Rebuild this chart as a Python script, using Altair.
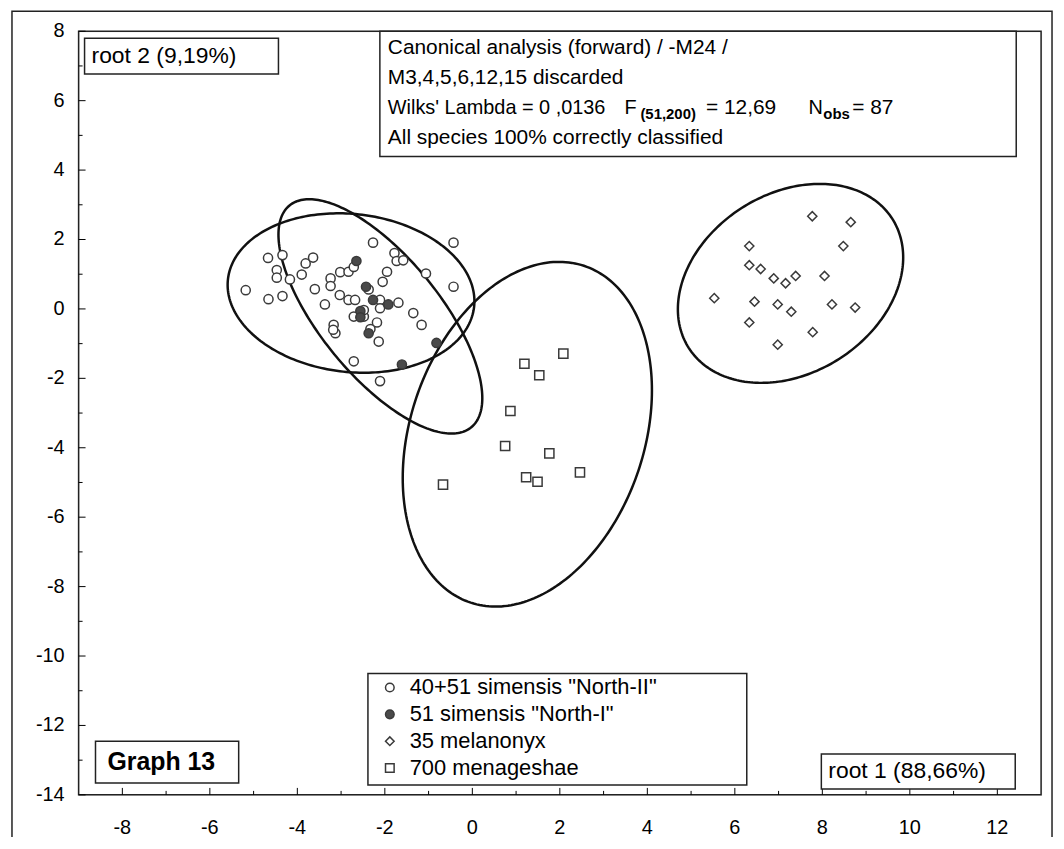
import numpy as np
import pandas as pd
import altair as alt

GROUPS = ['40+51 simensis "North-II"', '51 simensis "North-I"', '35 melanonyx', '700 menageshae']

north2_x = [-5.18, -4.67, -4.34, -4.47, -4.47, -4.17, -4.66, -4.34, -3.90, -3.81,
            -3.64, -3.60, -3.37, -3.24, -3.24, -3.02, -2.83, -2.71, -3.03, -2.83,
            -2.68, -2.71, -2.48, -3.17, -3.13, -3.18, -2.37, -2.05, -1.95, -2.27,
            -1.78, -1.73, -1.58, -2.11, -1.69, -2.11, -2.18, -2.33, -2.14, -1.35,
            -1.16, -1.06, -0.43, -0.43, -2.71, -2.11, -2.48]
north2_y = [0.54, 1.47, 1.55, 1.12, 0.90, 0.85, 0.28, 0.37, 0.99, 1.31,
            1.48, 0.57, 0.13, 0.88, 0.66, 1.06, 1.07, 1.21, 0.40, 0.26,
            0.26, -0.22, -0.22, -0.46, -0.70, -0.60, 0.56, 0.78, 1.07, 1.91,
            1.61, 1.38, 1.40, 0.26, 0.18, 0.02, -0.39, -0.58, -0.94, -0.12,
            -0.46, 1.02, 1.91, 0.64, -1.51, -2.08, -0.03]

north1_x = [-2.65, -2.43, -2.27, -1.92, -2.56, -2.56, -2.37, -0.82, -1.61]
north1_y = [1.38, 0.64, 0.26, 0.13, -0.06, -0.24, -0.70, -0.98, -1.60]

mel_x = [7.77, 8.65, 6.33, 8.48, 6.33, 6.59, 6.89, 7.16, 7.39, 8.05,
         5.53, 6.45, 6.98, 7.29, 8.22, 8.75, 6.33, 7.78, 6.98]
mel_y = [2.67, 2.50, 1.81, 1.81, 1.26, 1.15, 0.88, 0.74, 0.95, 0.95,
         0.31, 0.21, 0.13, -0.08, 0.13, 0.04, -0.39, -0.67, -1.03]

men_x = [2.08, 1.19, 1.53, 0.87, 0.75, 1.76, 1.23, 1.49, 2.46, -0.67]
men_y = [-1.29, -1.58, -1.91, -2.94, -3.95, -4.16, -4.85, -4.98, -4.71, -5.06]

# confidence ellipses: centre and two conjugate semi-axis vectors (data units)
ell_cx = [-2.773, -2.102, 1.257, 7.273]
ell_cy = [0.458, -0.215, -3.610, 0.736]
ell_ux = [2.818, 2.077, 2.848, 2.575]
ell_uy = [-0.143, -3.195, 1.264, 0.745]
ell_vx = [-0.114, 1.055, 0.0, 0.0]
ell_vy = [2.292, 1.089, -4.802, -2.768]

x_major = [-8, -6, -4, -2, 0, 2, 4, 6, 8, 10, 12]
x_minor = [-7, -5, -3, -1, 1, 3, 5, 7, 9, 11]
y_major = [-14, -12, -10, -8, -6, -4, -2, 0, 2, 4, 6, 8]
y_minor = [-13, -11, -9, -7, -5, -3, -1, 1, 3, 5, 7]

W, H = 968, 768
FONT = "Liberation Sans"
xs = alt.Scale(domain=[-9, 13], nice=False, zero=False)
ys = alt.Scale(domain=[-14, 8], nice=False, zero=False)

shape_s = alt.Scale(domain=GROUPS, range=["circle", "circle", "diamond", "square"])
fill_s = alt.Scale(domain=GROUPS, range=["white", "#4a4a4a", "white", "white"])
stroke_s = alt.Scale(domain=GROUPS, range=["#3a3a3a"] * 4)

pts = pd.DataFrame({
    "x": north2_x + north1_x + mel_x + men_x,
    "y": north2_y + north1_y + mel_y + men_y,
    "group": [GROUPS[0]] * len(north2_x) + [GROUPS[1]] * len(north1_x)
             + [GROUPS[2]] * len(mel_x) + [GROUPS[3]] * len(men_x),
})

t = np.linspace(0, 2 * np.pi, 241)
rows = []
for i in range(len(ell_cx)):
    ex = ell_cx[i] + ell_ux[i] * np.cos(t) + ell_vx[i] * np.sin(t)
    ey = ell_cy[i] + ell_uy[i] * np.cos(t) + ell_vy[i] * np.sin(t)
    for k in range(len(t)):
        rows.append({"e": i, "o": k, "x": ex[k], "y": ey[k]})
ell = pd.DataFrame(rows)

one = pd.DataFrame({"k": [0]})

points = alt.Chart(pts).mark_point(filled=True, size=85, strokeWidth=1.5, opacity=1).encode(
    x=alt.X("x:Q", scale=xs, axis=None),
    y=alt.Y("y:Q", scale=ys, axis=None),
    shape=alt.Shape("group:N", scale=shape_s, legend=None),
    fill=alt.Fill("group:N", scale=fill_s, legend=None),
    stroke=alt.Stroke("group:N", scale=stroke_s, legend=None),
)

ellipses = alt.Chart(ell).mark_line(color="#111", strokeWidth=2.5).encode(
    x=alt.X("x:Q", scale=xs, axis=None),
    y=alt.Y("y:Q", scale=ys, axis=None),
    detail="e:N",
    order="o:Q",
)

def xticks(vals, ln):
    return alt.Chart(pd.DataFrame({"v": vals})).mark_rule(color="black", strokeWidth=1).encode(
        x=alt.X("v:Q", scale=xs, axis=None), y=alt.value(H), y2=alt.value(H - ln))

def yticks(vals, ln):
    return alt.Chart(pd.DataFrame({"v": vals})).mark_rule(color="black", strokeWidth=1).encode(
        y=alt.Y("v:Q", scale=ys, axis=None), x=alt.value(0), x2=alt.value(ln))

xlab = alt.Chart(pd.DataFrame({"v": x_major, "s": [str(v) for v in x_major]})).mark_text(
    align="center", baseline="middle", font=FONT, fontSize=20, color="black").encode(
    x=alt.X("v:Q", scale=xs, axis=None), y=alt.value(H + 33), text="s:N")

ylab = alt.Chart(pd.DataFrame({"v": y_major, "s": [str(v) for v in y_major]})).mark_text(
    align="right", baseline="middle", font=FONT, fontSize=20, color="black").encode(
    y=alt.Y("v:Q", scale=ys, axis=None), x=alt.value(-14), text="s:N")

def box(x1, x2, y1, y2, sw=1.5, fill="white"):
    return alt.Chart(one).mark_rect(fill=fill, stroke="#222", strokeWidth=sw).encode(
        x=alt.value(x1), x2=alt.value(x2), y=alt.value(y1), y2=alt.value(y2))

def txt(s, x, y, size=20, weight="normal"):
    return alt.Chart(one).mark_text(align="left", baseline="middle", font=FONT, fontSize=size,
                                    fontWeight=weight, color="black").encode(
        x=alt.value(x), y=alt.value(y), text=alt.value(s))

# legend drawn as a framed key, symbols through the same shape/fill scales
legend_layers = [box(291, 672, 646, 758)]
for i, g in enumerate(GROUPS):
    yy = 660 + 27 * i
    legend_layers.append(
        alt.Chart(pd.DataFrame({"group": [g]})).mark_point(
            filled=True, size=75, strokeWidth=1.5, opacity=1).encode(
            x=alt.value(313), y=alt.value(yy),
            shape=alt.Shape("group:N", scale=shape_s, legend=None),
            fill=alt.Fill("group:N", scale=fill_s, legend=None),
            stroke=alt.Stroke("group:N", scale=stroke_s, legend=None)))
    legend_layers.append(
        alt.Chart(pd.DataFrame({"group": [g]})).mark_text(
            align="left", baseline="middle", font=FONT, fontSize=22, color="black").encode(
            x=alt.value(333), y=alt.value(yy), text="group:N"))

layers = [
    box(-67, 979, -20, 840, fill="transparent"),
    box(0, W, 0, H, fill="transparent"),
    ellipses,
    points,
    xticks(x_major, 7), xticks(x_minor, 4),
    yticks(y_major, 7), yticks(y_minor, 4),
    xlab, ylab,
    box(6, 201, 7, 43),
    txt("root 2 (9,19%)", 13, 25, size=23),
    box(303, 943, 0, 126),
    txt("Canonical analysis (forward) / -M24 /", 311, 17, size=21),
    txt("M3,4,5,6,12,15 discarded", 311, 47, size=21),
    txt("Wilks' Lambda = 0 ,0136", 311, 77),
    txt("F", 549, 77),
    txt("(51,200)", 565, 83, size=15, weight="bold"),
    txt("= 12,69", 631, 77, size=21),
    txt("N", 734, 77),
    txt("obs", 749, 83, size=15, weight="bold"),
    txt("= 87", 778, 77, size=21),
    txt("All species 100% correctly classified", 311, 107, size=21),
    box(17, 161, 714, 756),
    txt("Graph 13", 29, 735, size=25, weight="bold"),
    box(747, 942, 727, 762),
    txt("root 1 (88,66%)", 754, 744, size=23),
] + legend_layers

chart = alt.layer(*layers).properties(
    width=W, height=H,
    padding={"left": 71, "top": 21, "right": 15, "bottom": 40},
    autosize=alt.AutoSizeParams(type="none"),
).configure_view(stroke=None).configure(font=FONT)

chart.save("out.html", embed_options={"renderer": "svg", "actions": False})
